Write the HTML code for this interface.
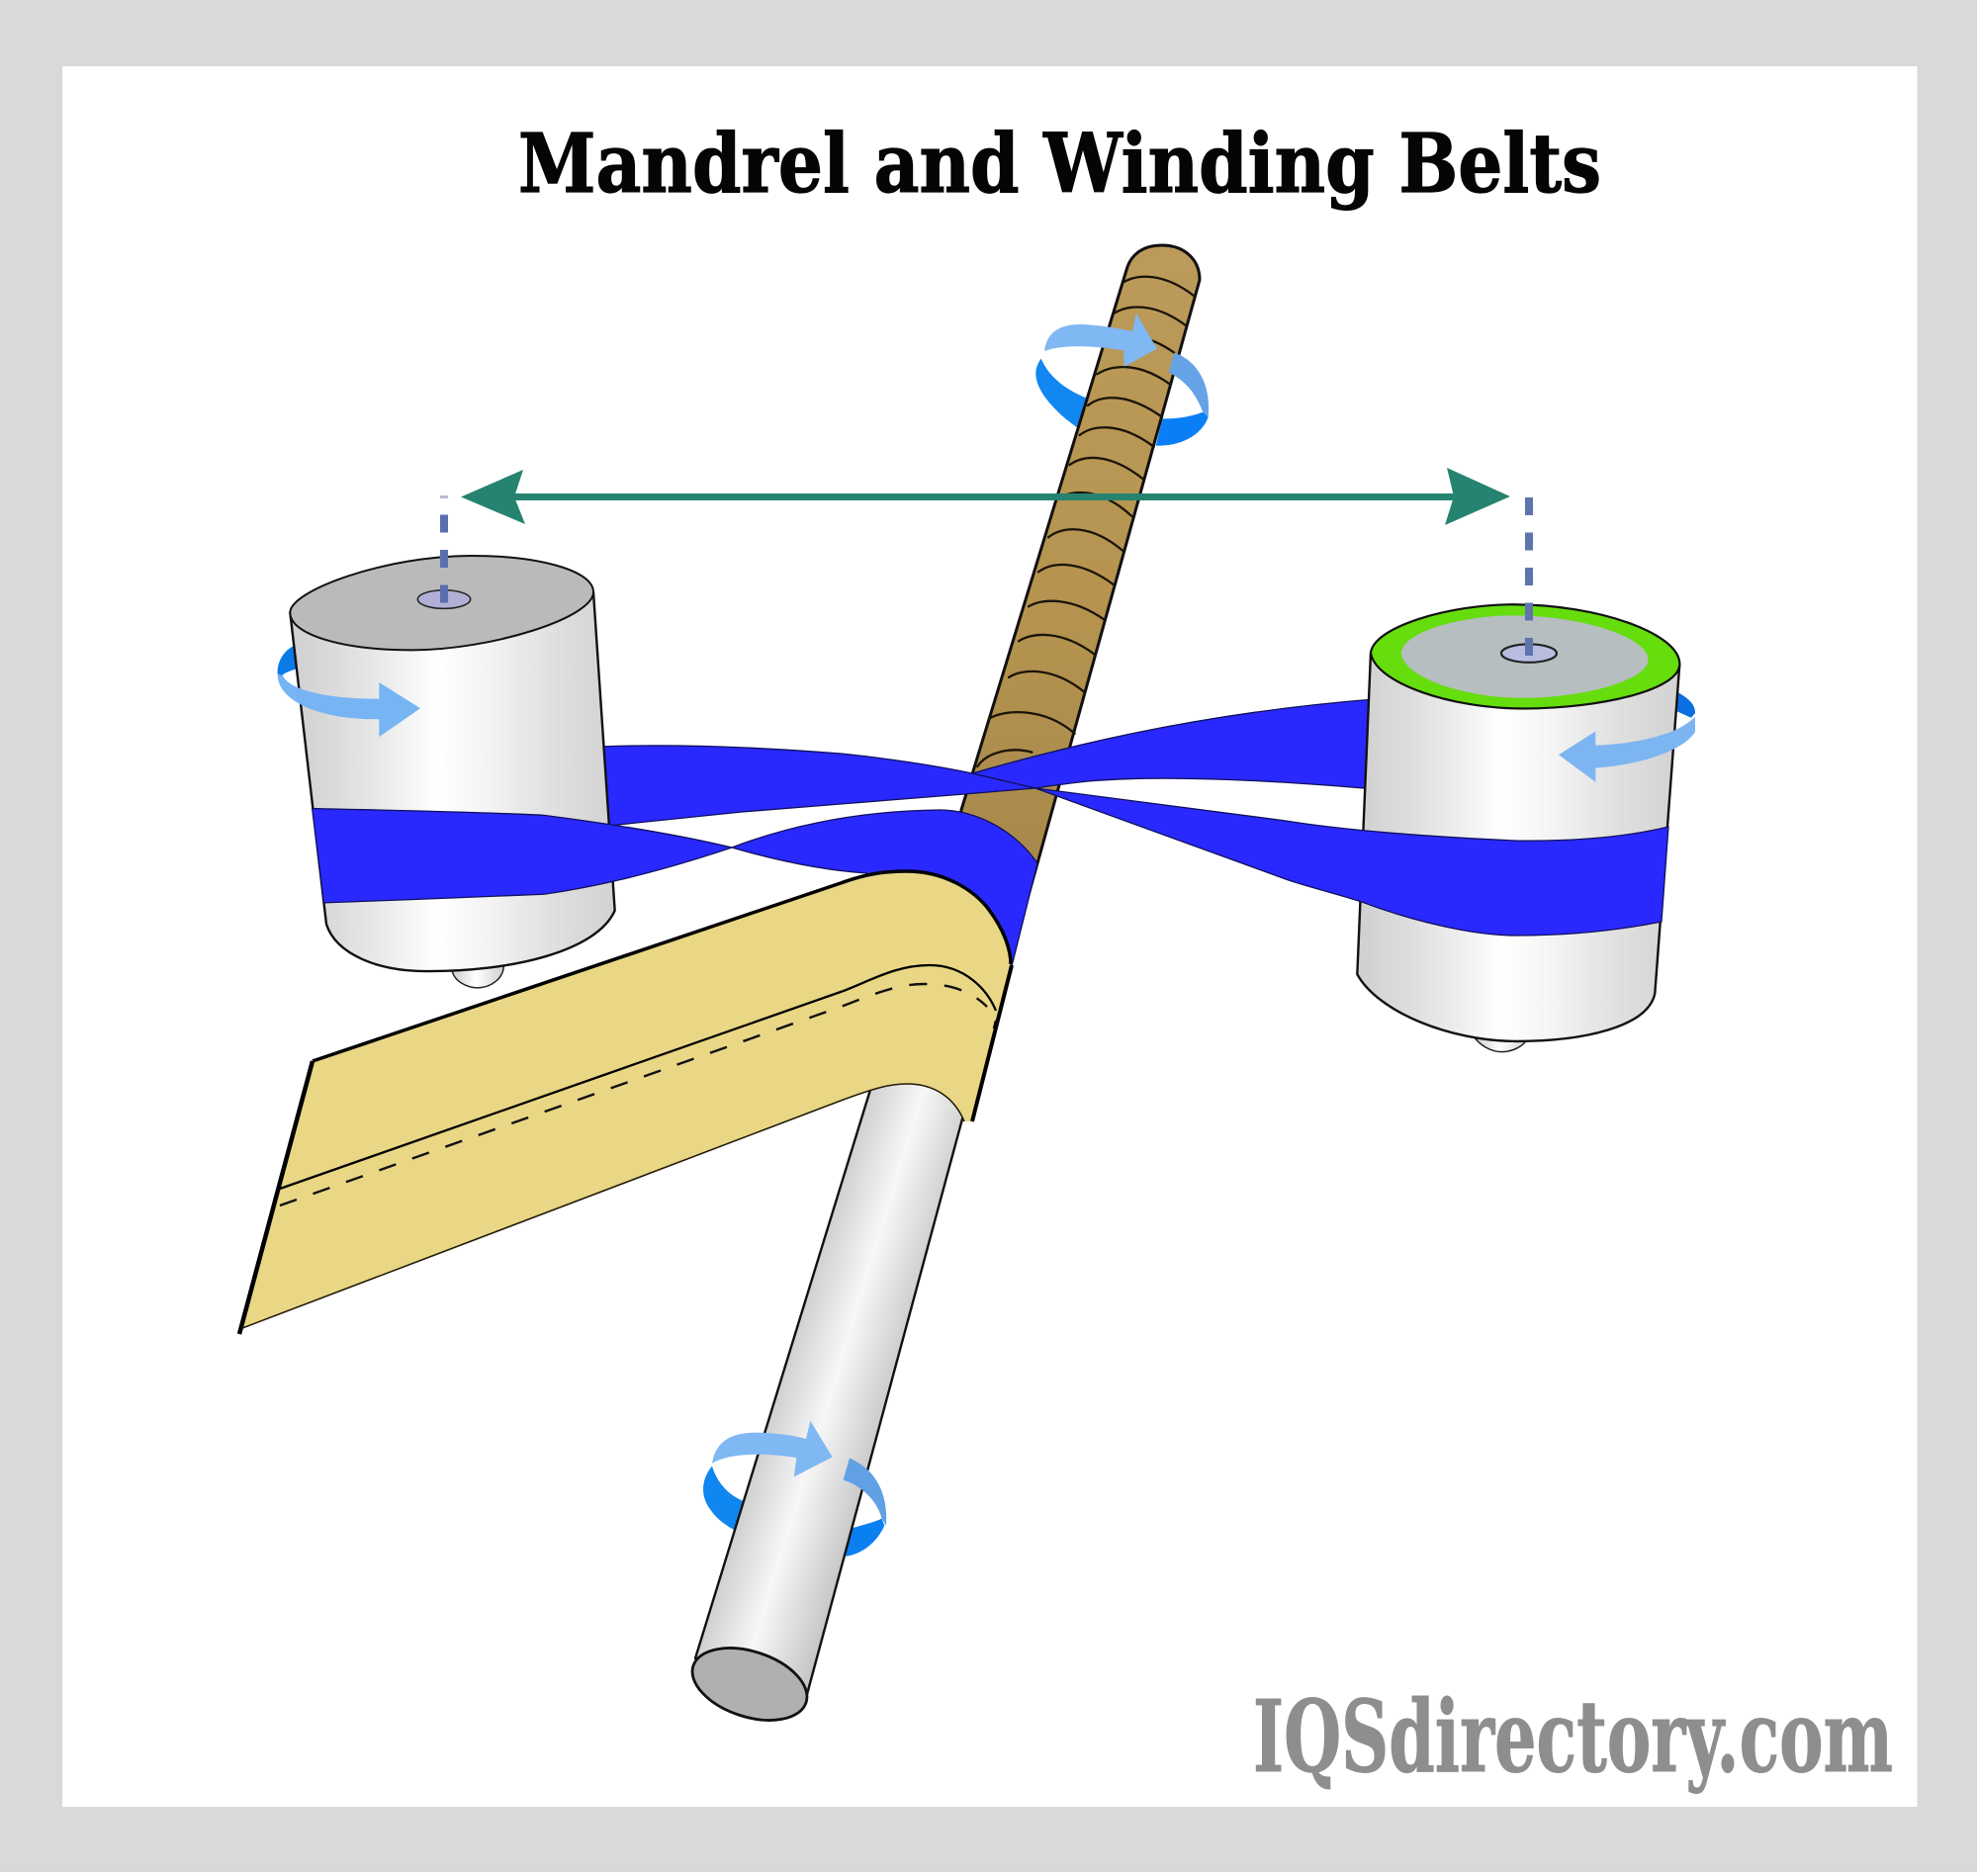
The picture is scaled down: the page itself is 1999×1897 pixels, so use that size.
<!DOCTYPE html>
<html>
<head>
<meta charset="utf-8">
<title>Mandrel and Winding Belts</title>
<style>
html,body{margin:0;padding:0;background:#fff}
svg{display:block}
svg *{vector-effect:non-scaling-stroke}
.belt{fill:#2929ff;stroke:#10105c;stroke-width:1.3;stroke-linejoin:round}
.arc{fill:none;stroke:#1a1408;stroke-width:2.3;stroke-linecap:round}
</style>
</head>
<body>
<svg xmlns="http://www.w3.org/2000/svg" width="1999" height="1897" viewBox="0 0 1999 1897">
<defs>
<linearGradient id="cyl" x1="0" y1="0" x2="1" y2="0">
<stop offset="0" stop-color="#cfcfcf"/><stop offset=".15" stop-color="#dcdcdc"/><stop offset=".3" stop-color="#ececec"/><stop offset=".45" stop-color="#ffffff"/><stop offset=".62" stop-color="#f3f3f3"/><stop offset=".8" stop-color="#e0e0e0"/><stop offset="1" stop-color="#d2d2d2"/>
</linearGradient>
<linearGradient id="mand" gradientUnits="userSpaceOnUse" x1="788" y1="1400" x2="899" y2="1434">
<stop offset="0" stop-color="#d0d0d0"/><stop offset=".45" stop-color="#f7f7f7"/><stop offset="1" stop-color="#c6c6c6"/>
</linearGradient>
<linearGradient id="rod" gradientUnits="userSpaceOnUse" x1="0" y1="248" x2="0" y2="880">
<stop offset="0" stop-color="#bc9a5a"/><stop offset=".6" stop-color="#b5934f"/><stop offset="1" stop-color="#a8894c"/>
</linearGradient>
</defs>

<rect x="0" y="0" width="1999" height="1893" fill="#d9d9d9"/>
<rect x="63" y="67" width="1875.500" height="1760" fill="#ffffff"/>

<text x="524" y="194" font-family="'DejaVu Serif','Liberation Serif',serif" font-weight="700" font-size="82" textLength="1095" lengthAdjust="spacingAndGlyphs" fill="#050505" stroke="#050505" stroke-width="1.2">Mandrel and Winding Belts</text>
<text x="1267" y="1791" font-family="'DejaVu Serif','Liberation Serif',serif" font-weight="700" font-size="100" textLength="647" lengthAdjust="spacingAndGlyphs" fill="#8e8e8e" stroke="#8e8e8e" stroke-width="1">IQSdirectory.com</text>

<!-- rod ring, back parts -->
<g transform="translate(900,220) scale(.33333)">
<path fill="#1187f2" d="M458,428 C435,460 435,495 470,545 C500,585 535,615 568,637 L597,548 C540,525 485,490 458,428Z"/>
<path fill="#0a7ff5" d="M826,610 C870,612 915,603 950,590 L965,605 C950,650 895,695 806,692Z"/>
</g>

<!-- brown rod -->
<path fill="url(#rod)" stroke="#111" stroke-width="3" stroke-linejoin="round" d="M1139,273 C1143,258 1155,248 1175,248 C1197,248 1213,262 1213,283 L1049,873 L1040,905 L960,905 L972,819Z"/>
<g transform="translate(900,220) scale(.33333)">
<path class="arc" d="M710,195 C750,172 830,165 925,240"/>
<path class="arc" d="M680,290 C720,265 800,255 898,328"/>
<path class="arc" d="M655,375 C695,355 770,345 862,410"/>
<path class="arc" d="M628,475 C670,448 750,435 848,505"/>
<path class="arc" d="M600,570 C640,538 720,530 825,605"/>
<path class="arc" d="M575,660 C615,628 700,620 800,695"/>
<path class="arc" d="M545,750 C590,718 670,715 770,795"/>
<path class="arc" d="M515,850 C555,825 640,820 732,905"/>
<path class="arc" d="M480,970 C525,935 610,930 705,1010"/>
<path class="arc" d="M450,1075 C495,1042 580,1040 680,1115"/>
<path class="arc" d="M420,1180 C460,1155 550,1150 650,1220"/>
<path class="arc" d="M390,1285 C430,1258 520,1250 620,1325"/>
<path class="arc" d="M360,1395 C400,1368 495,1362 590,1440"/>
<path class="arc" d="M300,1520 C340,1495 460,1480 560,1565"/>
<path class="arc" d="M265,1665 C295,1620 370,1605 430,1622"/>
<!-- rod ring, front parts -->
<path fill="#65a3e6" d="M862,410 C920,430 975,490 965,605 L948,588 C925,530 895,495 845,470Z"/>
<path fill="#7fb8f3" d="M468,405 C478,325 550,318 620,327 C660,330 700,338 735,345 L746,290 L810,398 L710,452 L708,403 C650,393 530,380 468,405Z"/>
</g>

<!-- green dimension arrow -->
<rect x="515" y="499" width="960" height="7" fill="#268370"/>
<polygon fill="#268370" points="466,502.500 529,475 520,502.500 531,530"/>
<polygon fill="#268370" points="1527,502 1463,473 1470,502 1461,531"/>

<!-- upper belts -->
<path class="belt" d="M605,755 C680,752 760,755 850,762 C900,767 950,775 983,782 L1047,797 L975,803 L850,813 L750,821 L605,836Z"/>
<path class="belt" d="M983,782 C1060,760 1200,722 1390,707 L1390,798 C1300,790 1180,783 1100,790 C1080,792 1060,795 1047,797Z"/>

<!-- left cylinder -->
<g transform="translate(250,480) scale(.33333,.34435)">
<path fill="#0a7ae8" d="M147,500 C110,515 90,550 92,585 L105,590 C115,580 135,575 155,568Z"/>
<path fill="url(#cyl)" stroke="#222" stroke-width="1.5" d="M620,1450 C625,1490 670,1507 700,1507 C740,1505 778,1480 778,1440Z"/>
<path fill="url(#cyl)" stroke="#111" stroke-width="2.4" stroke-linejoin="round" d="M130,405 L240,1320 C270,1410 400,1458 540,1458 C800,1460 1060,1400 1115,1280 L1050,345Z"/>
<path fill="#bababa" stroke="#111" stroke-width="2" d="M130,405 C130,340 420,238 680,238 C880,238 1050,280 1050,345 C1050,420 740,515 500,515 C290,515 130,470 130,405Z"/>
<ellipse cx="597" cy="366" rx="80" ry="27" fill="#b0b0d6" stroke="#222" stroke-width="1.5"/>
<path fill="#77b4f3" d="M92,585 C90,660 210,720 400,718 L400,770 L525,686 L400,610 L400,658 C280,660 130,640 108,590Z"/>
<path class="belt" d="M197,980 C400,985 700,990 900,1000 C1100,1025 1300,1055 1470,1095 C1300,1150 1100,1205 900,1232 C700,1240 450,1250 232,1257Z"/>
</g>
<!-- left dashed axis -->
<line x1="449" y1="501" x2="449" y2="504" stroke="#b6bcd0" stroke-width="8"/>
<line x1="449" y1="520.500" x2="449" y2="611" stroke="#5a6fb0" stroke-width="8" stroke-dasharray="18 17.500"/>

<!-- right cylinder -->
<g transform="translate(1300,480) scale(.33333,.3827)">
<path fill="#0a6fe0" d="M1185,573 C1220,590 1242,605 1242,630 L1230,642 L1178,622Z"/>
<path fill="url(#cyl)" stroke="#222" stroke-width="1.5" d="M575,1490 C600,1515 630,1525 655,1525 C690,1525 720,1510 735,1490Z"/>
<path fill="url(#cyl)" stroke="#111" stroke-width="2.4" stroke-linejoin="round" d="M258,470 L217,1320 C280,1420 500,1497 700,1497 C900,1497 1100,1460 1120,1370 L1195,500Z"/>
<path fill="#66dd0c" stroke="#111" stroke-width="2.2" d="M258,470 C270,400 500,343 690,343 C950,343 1195,420 1195,500 C1195,570 950,618 720,618 C500,618 270,550 258,470Z"/>
<path fill="#b6bec0" d="M350,470 C360,410 550,372 690,372 C900,372 1100,430 1100,490 C1095,545 900,590 720,590 C540,590 355,535 350,470Z"/>
<ellipse cx="738" cy="472" rx="84" ry="24" fill="#b8bde0" stroke="#222" stroke-width="2.2"/>
<path fill="#7db5f2" d="M1242,640 L1242,680 C1200,735 1060,768 940,775 L940,812 L828,740 L940,678 L940,715 C1050,712 1180,690 1235,645Z"/>
</g>
<path class="belt" d="M1047,797 L1300,830 C1350,838 1420,845 1533,850 C1600,851 1650,845 1687,836 L1680,932 C1640,940 1590,946 1533,946 C1490,946 1430,932 1377,912 C1345,902 1320,896 1300,889 L1047,797Z"/>
<!-- right dashed axis -->
<line x1="1546" y1="503" x2="1546" y2="664" stroke="#5f74ad" stroke-width="8" stroke-dasharray="18 17.500"/>

<!-- mandrel ring back parts -->
<g transform="translate(660,1400) scale(.33333)">
<path fill="#0f86f0" d="M180,247 C145,290 145,340 175,380 C195,410 225,430 255,445 L280,355 C235,340 195,300 180,247Z"/>
<path fill="#0a80f0" d="M600,437 C630,428 665,420 695,407 L703,428 C680,480 630,520 575,522Z"/>
</g>

<!-- white mandrel -->
<path fill="url(#mand)" stroke="#111" stroke-width="2.400" stroke-linejoin="round" d="M896,1050 L703,1677 L815,1717 L995,1050Z"/>
<g transform="rotate(18 758 1703)">
<ellipse cx="758" cy="1703" rx="60" ry="33" fill="#b0b0b0" stroke="#111" stroke-width="2.800"/>
</g>
<g transform="translate(660,1400) scale(.33333)">
<path fill="#61a0e4" d="M597,223 C660,250 715,310 708,428 L695,407 C680,350 630,305 578,290Z"/>
<path fill="#7fb8f3" d="M180,240 C195,140 290,140 380,150 C410,152 440,158 465,165 L478,110 L545,220 L428,280 L436,222 C380,212 240,200 180,240Z"/>
</g>

<!-- wrap of belt around rod -->
<path class="belt" d="M740,857 C790,838 860,820 950,819 C985,819 1025,838 1049,873 L1023,977 L900,900 L877,883 C830,880 785,870 740,857Z"/>

<!-- beige strap -->
<path fill="#e9d786" d="M316,1073 L850,893 C880,882 900,881 917,881 C955,881 985,900 1000,920 C1015,940 1022,960 1022,975 L985,1134 L975,1134 C965,1110 945,1096 917,1096 C900,1096 885,1100 850,1113 L245,1343Z"/>
<path fill="none" stroke="#000" stroke-width="3.500" d="M316,1073 L850,893 C880,882 900,881 917,881 C955,881 985,900 1000,920 C1015,940 1022,960 1022,975"/>
<path fill="none" stroke="#000" stroke-width="4.500" d="M316,1073 L242,1349"/>
<path fill="none" stroke="#000" stroke-width="4" d="M1023,976 L983,1134"/>
<path fill="none" stroke="#221c08" stroke-width="1.600" d="M245,1343 L850,1113 C885,1100 900,1096 917,1096 C945,1096 965,1110 975,1134"/>
<path fill="none" stroke="#000" stroke-width="2.300" d="M283,1202 L850,1003 C880,992 905,976 940,976 C975,976 998,1000 1007,1022"/>
<path fill="none" stroke="#111" stroke-width="2.400" stroke-dasharray="18 17.500" d="M283,1219 L850,1018 C880,1007 905,995 935,995 C965,995 985,1005 998,1018"/>
<path fill="none" stroke="#000" stroke-width="2.500" d="M1007,1032 L1005,1040"/>
</svg>
</body>
</html>
